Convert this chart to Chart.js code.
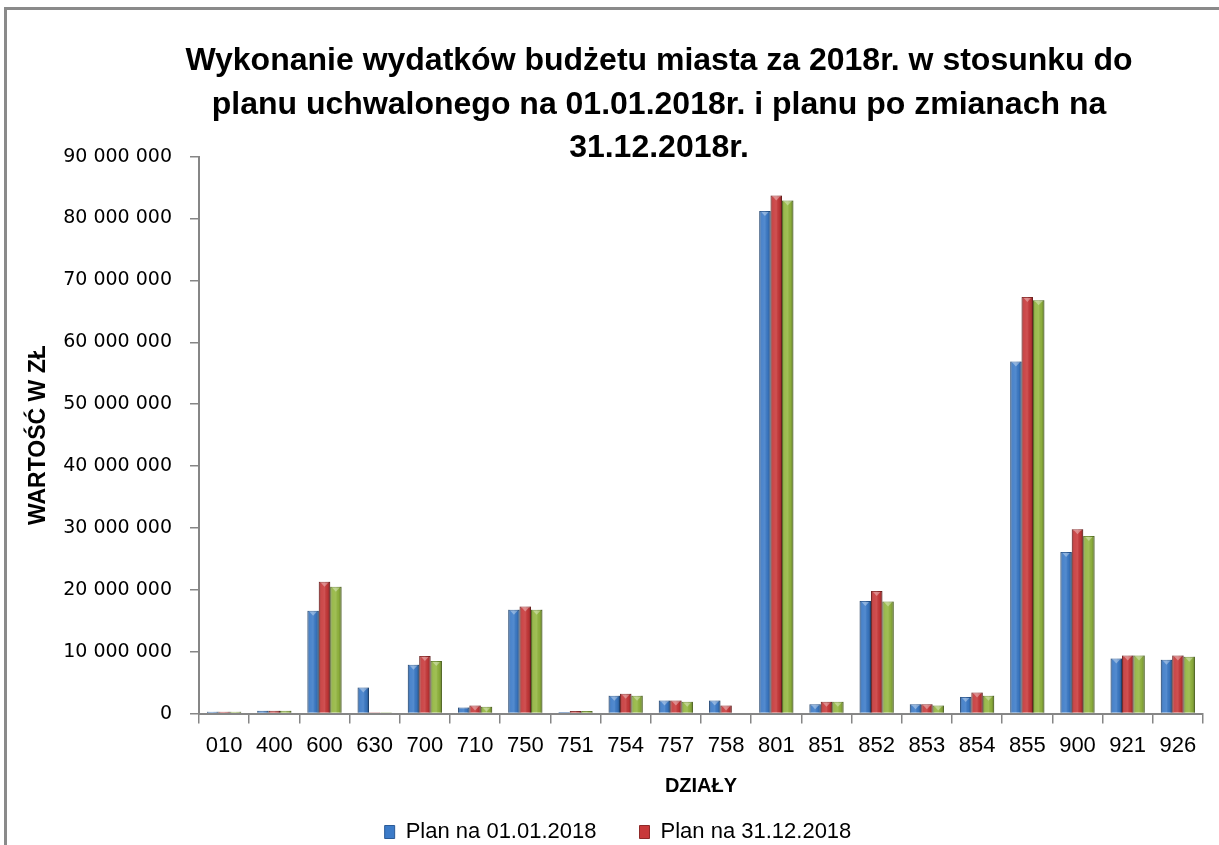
<!DOCTYPE html>
<html>
<head>
<meta charset="utf-8">
<script src="https://cdn.jsdelivr.net/npm/chart.js@4.4.1/dist/chart.umd.min.js"></script>
<style>
    html, body { margin: 0; background: #fff; overflow: hidden; }
    .frame { position: absolute; left: 4px; top: 7px; width: 1320px; height: 920px; border: 3px solid #8a8a8a; background: #fff; }
    .chart-box { position: absolute; left: 0; top: 0; width: 1304px; height: 872px; }
</style>
</head>
<body>
<div class="frame">
    <div class="chart-box"><canvas id="chart"></canvas></div>
</div>
<script>
// dzialy budzetu
const categories = ['010', '400', '600', '630', '700', '710', '750', '751', '754', '757',
                    '758', '801', '851', '852', '853', '854', '855', '900', '921', '926'];

const planStart = [300000, 450000, 16600000, 4200000, 7900000, 1000000, 16800000, 250000, 2900000, 2100000,
                   2100000, 81200000, 1500000, 18200000, 1500000, 2700000, 56900000, 26100000, 8900000, 8700000];

const planEnd = [300000, 450000, 21300000, 200000, 9300000, 1300000, 17300000, 400000, 3200000, 2100000,
                 1300000, 83700000, 1900000, 19800000, 1500000, 3400000, 67300000, 29800000, 9400000, 9400000];

const execution = [300000, 450000, 20500000, 200000, 8500000, 1100000, 16800000, 400000, 2900000, 1900000,
                   0, 82900000, 1900000, 18100000, 1300000, 2900000, 66800000, 28700000, 9400000, 9200000];

const seriesLabels = ['Plan na 01.01.2018', 'Plan na 31.12.2018', 'Wykonanie na 31.12.2018'];

const titleLines = [
    'Wykonanie wydatków budżetu miasta za 2018r. w stosunku do',
    'planu uchwalonego na 01.01.2018r. i planu po zmianach na',
    '31.12.2018r.'
];

const FONT = '"Liberation Sans", Arial, sans-serif';

function formatPl(v) {
    return String(v).replace(/\B(?=(\d{3})+(?!\d))/g, ' ');
}

// tytul i legenda nie sa w oryginale wysrodkowane na tej samej osi
const shiftBlocks = {
    id: 'shiftBlocks',
    afterLayout(chart) {
        chart.titleBlock.left += 54;
        chart.titleBlock.right += 54;
        chart.legend.left += 13;
        chart.legend.right += 13;
        chart.legend.top -= 20;
        chart.legend.bottom -= 20;
    }
};

// cieniowanie slupkow (ciemniejsze brzegi, jasniejsza "czapka")
const barShade = {
    id: 'barShade',
    afterDatasetsDraw(chart) {
        const c = chart.ctx;
        chart.data.datasets.forEach((ds, i) => {
            chart.getDatasetMeta(i).data.forEach(bar => {
                const { x, y, base, width } = bar.getProps(['x', 'y', 'base', 'width'], true);
                const h = base - y;
                if (h < 1) return;
                const left = x - width / 2;
                const g = c.createLinearGradient(left, 0, left + width, 0);
                g.addColorStop(0, 'rgba(0,0,0,0.28)');
                g.addColorStop(0.25, 'rgba(255,255,255,0.08)');
                g.addColorStop(0.5, 'rgba(255,255,255,0.12)');
                g.addColorStop(0.75, 'rgba(0,0,0,0.05)');
                g.addColorStop(1, 'rgba(0,0,0,0.32)');
                c.save();
                c.fillStyle = g;
                c.fillRect(left, y, width, h);
                if (h > 6) {
                    c.fillStyle = 'rgba(255,255,255,0.35)';
                    c.beginPath();
                    c.moveTo(left + 2, y + 1);
                    c.lineTo(left + width - 2, y + 1);
                    c.lineTo(x, y + 5);
                    c.closePath();
                    c.fill();
                }
                c.restore();
            });
        });
    }
};

const axisGray = '#868686';

const ctx = document.getElementById('chart').getContext('2d');
new Chart(ctx, {
    type: 'bar',
    data: {
        labels: categories,
        datasets: [
            { label: seriesLabels[0], data: planStart, backgroundColor: '#3c7bc8', borderColor: '#2b5b97' },
            { label: seriesLabels[1], data: planEnd, backgroundColor: '#c8393a', borderColor: '#8f2a29' },
            { label: seriesLabels[2], data: execution, backgroundColor: '#93b63f', borderColor: '#6b8a2c' }
        ]
    },
    options: {
        responsive: true,
        maintainAspectRatio: false,
        animation: false,
        layout: { padding: { left: 0, right: 108, top: 0, bottom: 9 } },
        datasets: {
            bar: { categoryPercentage: 0.68, barPercentage: 1.0, borderWidth: 1, borderSkipped: 'bottom' }
        },
        scales: {
            x: {
                offset: true,
                grid: { display: true, drawOnChartArea: false, offset: true, tickLength: 10, color: axisGray, lineWidth: 1.5 },
                border: { display: true, color: axisGray, width: 2 },
                ticks: { color: '#000', padding: 9, font: { family: FONT, size: 22 } },
                title: {
                    display: true,
                    text: 'DZIAŁY',
                    color: '#000',
                    padding: { top: 6, bottom: 0 },
                    font: { family: FONT, size: 20, weight: 'bold' }
                }
            },
            y: {
                min: 0,
                max: 90000000,
                afterFit(scale) { scale.width = 192; },
                grid: { display: true, drawOnChartArea: false, tickLength: 9, color: axisGray, lineWidth: 1.5 },
                border: { display: true, color: axisGray, width: 2 },
                ticks: {
                    stepSize: 10000000,
                    color: '#000',
                    padding: 18,
                    font: { family: '"DejaVu Sans", sans-serif', size: 19 },
                    callback: v => formatPl(v)
                },
                title: {
                    display: true,
                    text: 'WARTOŚĆ W ZŁ',
                    color: '#000',
                    padding: { top: 18, bottom: 0 },
                    font: { family: FONT, size: 23, weight: 'bold' }
                }
            }
        },
        plugins: {
            title: {
                display: true,
                text: titleLines,
                color: '#000',
                padding: { top: 30, bottom: -13 },
                font: { family: FONT, size: 32, weight: 'bold', lineHeight: 1.35 }
            },
            legend: {
                position: 'bottom',
                labels: {
                    color: '#000',
                    boxWidth: 10,
                    boxHeight: 13,
                    padding: 43,
                    font: { family: FONT, size: 22 },
                    // trzecia pozycja legendy jest ucieta w oryginale
                    filter: item => item.datasetIndex < 2
                }
            },
            tooltip: { enabled: false }
        }
    },
    plugins: [shiftBlocks, barShade]
});
</script>
</body>
</html>
